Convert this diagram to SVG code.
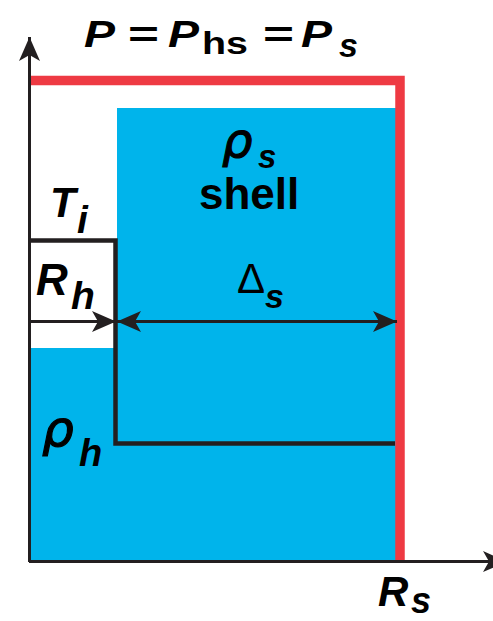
<svg xmlns="http://www.w3.org/2000/svg" width="493" height="621" viewBox="0 0 493 621">
<style>
.lbl{font-family:"Liberation Sans",Arial,sans-serif;font-weight:bold;font-style:italic;fill:#000}
.up{font-family:"Liberation Sans",Arial,sans-serif;font-weight:bold;fill:#000}
.rho{font-family:"DejaVu Sans","Liberation Sans",sans-serif;font-weight:bold;font-style:italic;fill:#000;stroke:#000;stroke-width:0}
.dl{font-family:"Liberation Sans",Arial,sans-serif;font-weight:normal;fill:#000}
.blk{fill:none;stroke:#231F20}
</style>
<defs>
<marker id="ah" viewBox="0 0 24 21" refX="24" refY="10.5" markerWidth="24" markerHeight="21" markerUnits="userSpaceOnUse" orient="auto-start-reverse">
<path d="M0,0 L24,10.5 L0,21 L6,10.5 z" fill="#231F20"/>
</marker>
</defs>
<rect width="493" height="621" fill="#fff"/>
<g id="regions">
<rect id="shell" x="117" y="108" width="279" height="453" fill="#00B4EB"/>
<rect id="core" x="29" y="348" width="90" height="213" fill="#00B4EB"/>
<path id="surface" d="M29,80.5 H400 V561" fill="none" stroke="#EE3A43" stroke-width="9.5"/>
</g>
<g id="connectors">
<path class="blk" d="M29,240.5 H115.5 V443.5 H395" stroke-width="4.5"/>
<line class="blk" x1="29" y1="321.5" x2="116" y2="321.5" stroke-width="3" marker-end="url(#ah)"/>
<line class="blk" x1="117" y1="321.5" x2="397" y2="321.5" stroke-width="3" marker-start="url(#ah)" marker-end="url(#ah)"/>
<line class="blk" x1="29.5" y1="562" x2="29.5" y2="37" stroke-width="3" marker-end="url(#ah)"/>
<line class="blk" x1="29" y1="561.5" x2="507" y2="561.5" stroke-width="3" marker-end="url(#ah)"/>
</g>
<g id="labels">
<text class="lbl" x="84" y="47" font-size="37" textLength="31" lengthAdjust="spacingAndGlyphs">P</text>
<text class="up" x="128" y="47" font-size="37" textLength="31" lengthAdjust="spacingAndGlyphs">=</text>
<text class="lbl" x="168" y="47" font-size="37" textLength="31" lengthAdjust="spacingAndGlyphs">P</text>
<text class="up" x="202" y="54" font-size="32" textLength="46" lengthAdjust="spacingAndGlyphs">hs</text>
<text class="up" x="263" y="47" font-size="37" textLength="31" lengthAdjust="spacingAndGlyphs">=</text>
<text class="lbl" x="301" y="47" font-size="37" textLength="31" lengthAdjust="spacingAndGlyphs">P</text>
<text class="lbl" x="339" y="57" font-size="34">s</text>
<text class="rho" x="222" y="157" font-size="48" style="font-weight:normal;stroke-width:1.2">ρ</text>
<text class="lbl" x="258" y="168" font-size="33">s</text>
<text class="up" x="199" y="209" font-size="44">shell</text>
<text class="lbl" x="50" y="217" font-size="42">T</text>
<text class="lbl" x="77" y="233" font-size="39">i</text>
<text class="lbl" x="36" y="295" font-size="44">R</text>
<text class="lbl" x="71" y="309" font-size="39">h</text>
<text class="dl" x="237" y="293" font-size="42">Δ</text>
<text class="lbl" x="265" y="308" font-size="34">s</text>
<text class="rho" x="42" y="446" font-size="50" style="font-weight:normal;stroke-width:1.2">ρ</text>
<text class="lbl" x="79" y="466" font-size="38">h</text>
<text class="lbl" x="378" y="606" font-size="42">R</text>
<text class="lbl" x="411" y="613" font-size="36">s</text>
</g>
</svg>
